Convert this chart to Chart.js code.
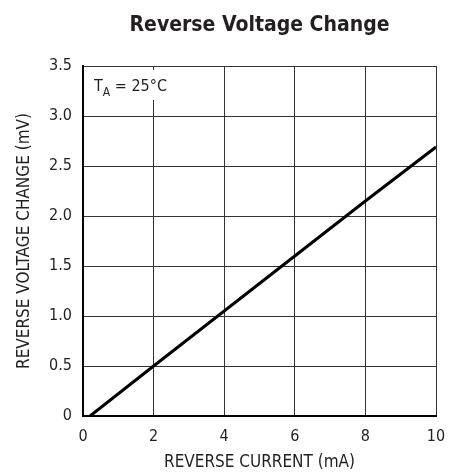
<!DOCTYPE html>
<html>
<head>
<meta charset="utf-8">
<script src="https://cdn.jsdelivr.net/npm/chart.js@4.4.1/dist/chart.umd.min.js"></script>
<style>
    html, body { margin: 0; padding: 0; background: #fff; }
    #wrap { width: 457px; height: 473px; position: relative; }
</style>
</head>
<body>
<div id="wrap"><canvas id="chart-reverse-voltage"></canvas></div>
<script>
const reverseCurrent = [0.2, 2, 4, 6, 8, 10];
const voltageChange = [0, 0.5, 1.05, 1.6, 2.15, 2.69];
const xTicks = [0, 2, 4, 6, 8, 10];
const yTicks = [0, 0.5, 1.0, 1.5, 2.0, 2.5, 3.0, 3.5];

const FONT = '"Liberation Sans Narrow", "DejaVu Sans Condensed", "Liberation Sans", Arial, sans-serif';

// title + T_A note, drawn by hand
const extrasPlugin = {
    id: 'extras',
    afterDraw(chart) {
        const ctx = chart.ctx;
        const area = chart.chartArea;
        ctx.save();
        ctx.fillStyle = '#231f20';
        ctx.font = 'bold 21px ' + FONT;
        ctx.textAlign = 'center';
        ctx.textBaseline = 'middle';
        ctx.fillText('Reverse Voltage Change', (area.left + area.right) / 2, 26);
        ctx.restore();
    },
    beforeDatasetsDraw(chart) {
        const ctx = chart.ctx;
        const area = chart.chartArea;
        ctx.save();
        ctx.fillStyle = '#fff';
        ctx.fillRect(area.left + 4, area.top + 4, 82, 30);
        ctx.fillStyle = '#231f20';
        ctx.textBaseline = 'alphabetic';
        ctx.textAlign = 'left';
        let x = area.left + 11;
        const y = area.top + 25;
        ctx.font = '16px ' + FONT;
        ctx.fillText('T', x, y);
        x += ctx.measureText('T').width;
        ctx.font = '12px ' + FONT;
        ctx.fillText('A', x, y + 5);
        x += ctx.measureText('A').width;
        ctx.font = '16px ' + FONT;
        ctx.fillText(' = 25°C', x, y);
        ctx.restore();
    }
};

new Chart(
    document.querySelector('#chart-reverse-voltage'),
    {
        type: 'line',
        data: {
            datasets: [
                {
                    data: reverseCurrent.map((x, i) => ({ x: x, y: voltageChange[i] })),
                    borderColor: '#000',
                    borderWidth: 3,
                    pointRadius: 0,
                    tension: 0,
                    fill: false,
                }
            ]
        },
        options: {
            responsive: true,
            maintainAspectRatio: false,
            animation: false,
            layout: {
                padding: { left: 0, right: 21, top: 66, bottom: 0 }
            },
            scales: {
                x: {
                    type: 'linear',
                    min: 0,
                    max: 10,
                    afterBuildTicks: (scale) => { scale.ticks = xTicks.map(v => ({ value: v })); },
                    afterFit: (scale) => { scale.height = 473 - 416; },
                    grid: {
                        color: '#333',
                        lineWidth: 1,
                        drawTicks: false,
                    },
                    border: { color: '#000', width: 2 },
                    ticks: {
                        color: '#231f20',
                        padding: 11,
                        font: { family: FONT, size: 16 },
                    },
                    title: {
                        display: true,
                        text: 'REVERSE CURRENT (mA)',
                        color: '#231f20',
                        font: { family: FONT, size: 17 },
                        padding: { top: 5, bottom: 0 },
                    }
                },
                y: {
                    type: 'linear',
                    min: 0,
                    max: 3.5,
                    afterBuildTicks: (scale) => { scale.ticks = yTicks.map(v => ({ value: v })); },
                    afterFit: (scale) => { scale.width = 83; },
                    grid: {
                        color: '#333',
                        lineWidth: 1,
                        drawTicks: false,
                    },
                    border: { color: '#000', width: 2 },
                    ticks: {
                        color: '#231f20',
                        padding: 11,
                        font: { family: FONT, size: 16 },
                        callback: (v) => v === 0 ? '0' : v.toFixed(1),
                    },
                    title: {
                        display: true,
                        text: 'REVERSE VOLTAGE CHANGE (mV)',
                        color: '#231f20',
                        font: { family: FONT, size: 17 },
                        padding: { top: 14, bottom: 4 },
                    }
                }
            },
            plugins: {
                legend: { display: false },
                tooltip: { enabled: false },
            }
        },
        plugins: [extrasPlugin]
    }
);
</script>
</body>
</html>
